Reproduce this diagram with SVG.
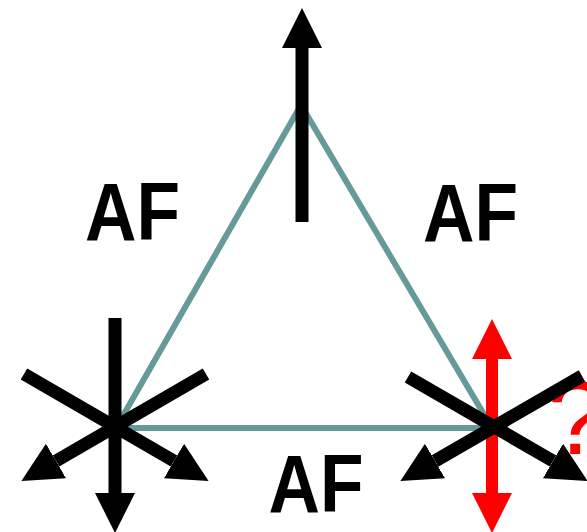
<svg xmlns="http://www.w3.org/2000/svg" width="587" height="532" viewBox="0 0 587 532">
<style>
.edge{stroke:#669999;stroke-width:6;fill:none;stroke-linejoin:miter}
.blk{stroke:#000;stroke-width:13;fill:none}
.red{stroke:#ff0000;stroke-width:12;fill:none}
.lbl{font-family:"Liberation Sans",Arial,sans-serif;font-weight:bold;font-size:81px;fill:#000;text-anchor:middle}
.q{font-family:"Liberation Sans",Arial,sans-serif;font-size:104px;fill:#ff0000}
</style>
<defs>
<marker id="ah" markerUnits="userSpaceOnUse" markerWidth="40" markerHeight="40" refX="0" refY="20" orient="auto" viewBox="0 0 40 40"><path d="M0,0 L40,20 L0,40 z" fill="#000"/></marker>
<marker id="ahr" markerUnits="userSpaceOnUse" markerWidth="40" markerHeight="40" refX="0" refY="20" orient="auto-start-reverse" viewBox="0 0 40 40"><path d="M0,0 L40,20 L0,40 z" fill="#ff0000"/></marker>
</defs>
<g id="triangle">
<polygon class="edge" points="301,105 116,428 492,428"/>
</g>
<g id="labels">
<text class="lbl" transform="translate(132.5,240) scale(0.88,1)">AF</text>
<text class="lbl" transform="translate(470.5,241) scale(0.88,1)">AF</text>
<text class="lbl" transform="translate(316,512) scale(0.88,1)">AF</text>
<text class="q" x="548" y="454">?</text>
</g>
<g id="connectors">
<line class="red" x1="492" y1="359" x2="492" y2="493" marker-start="url(#ahr)" marker-end="url(#ahr)"/>
<line class="blk" stroke-width="14" x1="302" y1="222" x2="302" y2="48" marker-end="url(#ah)"/>
<line class="blk" x1="115" y1="318" x2="115" y2="493" marker-end="url(#ah)"/>
<line class="blk" x1="24" y1="374" x2="174" y2="461" marker-end="url(#ah)"/>
<line class="blk" x1="206" y1="374" x2="56" y2="461" marker-end="url(#ah)"/>
<line class="blk" x1="408" y1="377" x2="553" y2="461" marker-end="url(#ah)"/>
<line class="blk" x1="582" y1="376" x2="435" y2="461" marker-end="url(#ah)"/>
</g>
</svg>
